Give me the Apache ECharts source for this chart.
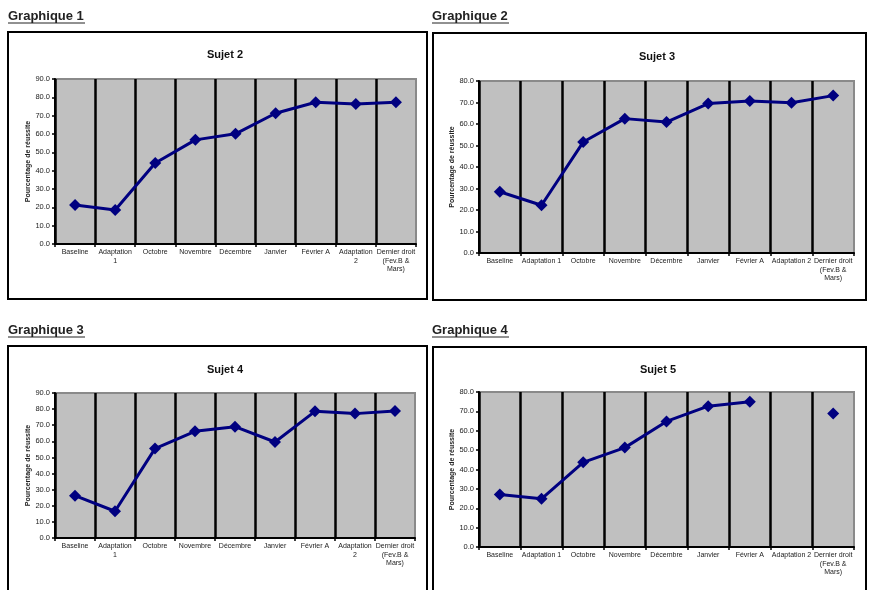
<!DOCTYPE html>
<html>
<head>
<meta charset="utf-8">
<script src="https://cdn.jsdelivr.net/npm/echarts@6/dist/echarts.min.js"></script>
<style>
html,body{margin:0;padding:0;background:#fff;}
#chart{width:878px;height:590px;}
</style>
</head>
<body>
<div id="chart"></div>
<script>
// ---- Data ----
const categoriesWrapped = ['Baseline', 'Adaptation\n1', 'Octobre', 'Novembre', 'Décembre', 'Janvier', 'Février A', 'Adaptation\n2', 'Dernier droit\n(Fev.B &\nMars)'];
const categoriesFlat = ['Baseline', 'Adaptation 1', 'Octobre', 'Novembre', 'Décembre', 'Janvier', 'Février A', 'Adaptation 2', 'Dernier droit\n(Fev.B &\nMars)'];

const headings = ['Graphique 1', 'Graphique 2', 'Graphique 3', 'Graphique 4'];
const subjects = ['Sujet 2', 'Sujet 3', 'Sujet 4', 'Sujet 5'];
const yAxisName = 'Pourcentage de réussite';
const yMaxes = [90, 80, 90, 80];

const sujet2 = [21.3, 18.5, 44.2, 56.8, 60.1, 71.3, 77.3, 76.4, 77.3];
const sujet3 = [28.5, 22.2, 51.6, 62.5, 60.9, 69.5, 70.7, 69.9, 73.2];
const sujet4 = [26.3, 16.6, 55.5, 66.2, 69.1, 59.6, 78.6, 77.2, 78.8];
const sujet5 = [27.1, 24.9, 43.7, 51.3, 64.8, 72.7, 75.0, null, 68.9];

// ---- Layout ----
const FONT = '"Liberation Sans", Arial, sans-serif';
const panels = [
  { data: sujet2, cats: categoriesWrapped, grid: { left: 55, top: 79, width: 361, height: 165 }, title: [220, 44], head: [8, 10], box: [8, 32, 419, 267] },
  { data: sujet3, cats: categoriesFlat,    grid: { left: 479, top: 81, width: 375, height: 172 }, title: [652, 46], head: [432, 10], box: [433, 33, 433, 267] },
  { data: sujet4, cats: categoriesWrapped, grid: { left: 55, top: 393, width: 360, height: 145 }, title: [220, 359], head: [8, 324], box: [8, 346, 419, 270] },
  { data: sujet5, cats: categoriesFlat,    grid: { left: 479, top: 392, width: 375, height: 155 }, title: [653, 359], head: [432, 324], box: [433, 347, 433, 270] }
];

const grids = [], xAxes = [], yAxes = [], series = [], titles = [], graphics = [];

panels.forEach((p, i) => {
  grids.push(Object.assign({
    show: true, backgroundColor: '#c0c0c0', borderColor: '#8a8a8a', borderWidth: 2
  }, p.grid));
  xAxes.push({
    type: 'category', gridIndex: i, data: p.cats, boundaryGap: true,
    axisLine: { show: true, onZero: false, lineStyle: { color: '#000', width: 2 } },
    axisTick: { show: true, length: 3, lineStyle: { color: '#000', width: 1.5 } },
    axisLabel: { interval: 0, fontSize: 7, color: '#222', fontFamily: FONT, margin: 4, lineHeight: 8.5 },
    splitLine: { show: true, showMaxLine: false, lineStyle: { color: '#000', width: 2.5 } }
  });
  yAxes.push({
    type: 'value', gridIndex: i, min: 0, max: yMaxes[i], interval: 10,
    name: yAxisName, nameLocation: 'middle', nameGap: 22, nameRotate: 90,
    nameTextStyle: { fontSize: 7, fontWeight: 'bold', color: '#222', fontFamily: FONT },
    axisLine: { show: true, lineStyle: { color: '#000', width: 2 } },
    axisTick: { show: true, length: 3, lineStyle: { color: '#000', width: 1.5 } },
    axisLabel: { fontSize: 7.5, color: '#222', fontFamily: FONT, margin: 5, formatter: v => v.toFixed(1) },
    splitLine: { show: false }
  });
  series.push({
    type: 'line', xAxisIndex: i, yAxisIndex: i, data: p.data,
    connectNulls: false, symbol: 'diamond', symbolSize: 12,
    lineStyle: { color: '#000080', width: 3 },
    itemStyle: { color: '#000080' },
    animation: false
  });
  titles.push({
    text: subjects[i], left: p.title[0], top: p.title[1], textAlign: 'center',
    textStyle: { fontSize: 11, fontWeight: 'bold', color: '#111', fontFamily: FONT }
  });
  graphics.push({
    type: 'rect', shape: { x: p.box[0], y: p.box[1], width: p.box[2], height: p.box[3] },
    style: { fill: 'none', stroke: '#000', lineWidth: 2 }, z: 0
  });
  graphics.push({
    type: 'text', left: p.head[0], top: p.head[1],
    style: { text: headings[i], font: 'bold 13px ' + FONT, fill: '#222' }
  });
  graphics.push({
    type: 'line', shape: { x1: p.head[0], y1: p.head[1] + 13, x2: p.head[0] + 77, y2: p.head[1] + 13 },
    style: { stroke: '#222', lineWidth: 1 }
  });
});

const chart = echarts.init(document.getElementById('chart'), null, { renderer: 'canvas' });
chart.setOption({
  animation: false,
  backgroundColor: '#fff',
  title: titles,
  grid: grids,
  xAxis: xAxes,
  yAxis: yAxes,
  series: series,
  graphic: graphics
});
</script>
</body>
</html>
